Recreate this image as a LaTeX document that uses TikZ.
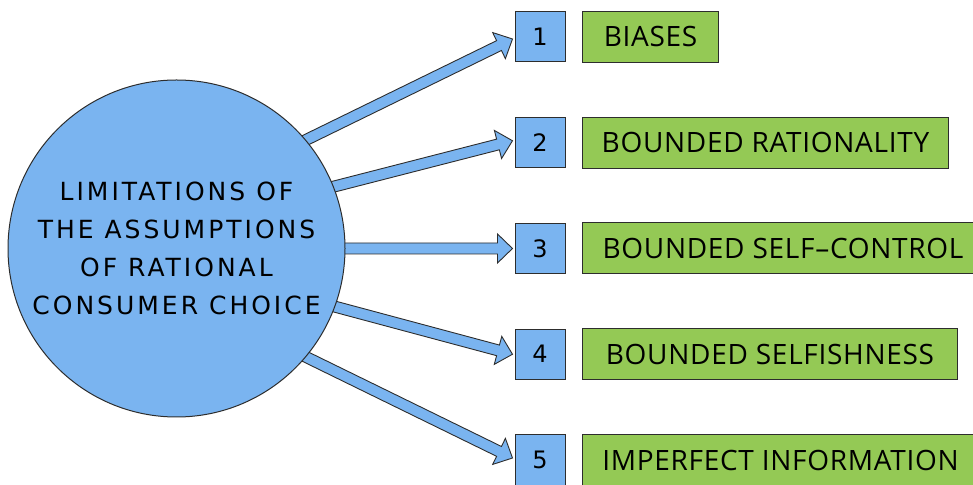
\documentclass[tikz,border=0pt]{standalone}
\usepackage{fontspec}
\setmainfont{Open Sans}
\newfontfamily\circfont[LetterSpace=12]{DejaVu Sans}
\newfontfamily\numfont{DejaVu Sans}
\newfontfamily\boxfont[LetterSpace=2.5]{Open Sans}
\usetikzlibrary{calc,backgrounds}
\definecolor{cblue}{RGB}{122,180,240}
\definecolor{cgreen}{RGB}{148,201,85}
\definecolor{outl}{RGB}{45,45,45}
\tikzset{
  x=1pt,y=1pt,
  bigcirc/.style={circle,minimum size=337pt,inner sep=0pt,fill=cblue,draw=outl,line width=1pt,align=center,
    font=\circfont\fontsize{25}{37.8}\selectfont},
  numbox/.style={rectangle,minimum width=50pt,minimum height=50pt,inner sep=0pt,fill=cblue,draw=outl,line width=1pt,
    font=\numfont\fontsize{24}{28}\selectfont},
  labbox/.style={rectangle,minimum height=51pt,inner sep=0pt,fill=cgreen,draw=outl,line width=1pt,anchor=west,
    font=\boxfont\fontsize{28}{30}\selectfont},
  arrowbody/.style={fill=cblue,draw=outl,line width=0.9pt,line join=miter}
}
\newcommand\fatarrow[2]{%
  \coordinate (mm) at ($(#2)!15pt!(#1)$);
  \filldraw[arrowbody] ($(#1)!5.5pt!90:(#2)$) -- ($(mm)!5.5pt!90:(#2)$) -- ($(mm)!14.5pt!90:(#2)$) -- (#2)
    -- ($(mm)!14.5pt!-90:(#2)$) -- ($(mm)!5.5pt!-90:(#2)$) -- ($(#1)!5.5pt!-90:(#2)$) -- cycle;%
}
\begin{document}
\begin{tikzpicture}
\useasboundingbox (0,0) rectangle (973,484);
\node[bigcirc] (c) at (176.5,235.5) {LIMITATIONS OF\\THE ASSUMPTIONS\\OF RATIONAL\\CONSUMER CHOICE};
\node[numbox] (n1) at (540,447) {1};
\node[numbox] (n2) at (540,341.25) {2};
\node[numbox] (n3) at (540,235.5) {3};
\node[numbox] (n4) at (540,129.75) {4};
\node[numbox] (n5) at (540,24) {5};
\node[labbox,minimum width=136pt] (g1) at (582,447) {BIASES};
\node[labbox,minimum width=366pt] (g2) at (582,341.25) {BOUNDED RATIONALITY};
\node[labbox,minimum width=401pt] (g3) at (582,235.5) {BOUNDED SELF–CONTROL};
\node[labbox,minimum width=375pt] (g4) at (582,129.75) {BOUNDED SELFISHNESS};
\node[labbox,minimum width=396pt] (g5) at (582,24) {IMPERFECT INFORMATION};
\coordinate (s1) at ($(c.center)+(42:148)$);
\coordinate (s2) at ($(c.center)+(22.6:146)$);
\coordinate (s3) at ($(c.center)+(0:143)$);
\coordinate (s4) at ($(c.center)+(-21:145)$);
\coordinate (s5) at ($(c.center)+(-42.3:145)$);
\coordinate (t1) at ($(n1.west)+(-2,-2)$);
\coordinate (t2) at ($(n2.west)+(-2,2)$);
\coordinate (t3) at ($(n3.west)+(-2,0)$);
\coordinate (t4) at ($(n4.west)+(-2,0)$);
\coordinate (t5) at ($(n5.west)+(-2,2)$);
\begin{pgfonlayer}{background}
\fatarrow{s1}{t1}
\fatarrow{s2}{t2}
\fatarrow{s3}{t3}
\fatarrow{s4}{t4}
\fatarrow{s5}{t5}
\end{pgfonlayer}
\end{tikzpicture}
\end{document}
